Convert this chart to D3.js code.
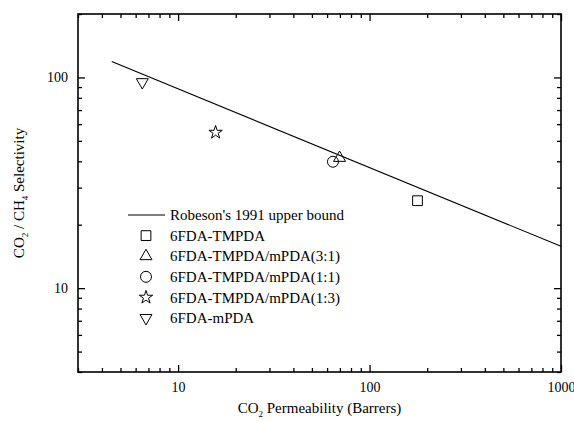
<!DOCTYPE html>
<html>
<head>
<meta charset="utf-8">
<script src="https://d3js.org/d3.v7.min.js"></script>
<style>
  html, body { margin: 0; padding: 0; background: #fff; }
</style>
</head>
<body>
<div id="chart"></div>
<script>
// Robeson 1991 upper bound, end points
var boundP = [4.5, 1000];
var boundSel = [119, 15.8];

var seriesNames = ["6FDA-TMPDA", "6FDA-TMPDA/mPDA(3:1)", "6FDA-TMPDA/mPDA(1:1)", "6FDA-TMPDA/mPDA(1:3)", "6FDA-mPDA"];
var permeability = [178, 69.7, 64.4, 15.7, 6.5];
var selectivity = [26.0, 41.5, 39.8, 54.8, 95.0];

var xMajor = [10, 100, 1000];
var yMajor = [10, 100];

var serif = "'Liberation Serif', 'Times New Roman', 'DejaVu Serif', serif";

var width = 574, height = 422,
    margin = {top: 14, right: 13, bottom: 50, left: 78},
    w = width - margin.left - margin.right,
    h = height - margin.top - margin.bottom;

var svg = d3.select("#chart").append("svg")
    .attr("width", width).attr("height", height)
    .attr("font-family", serif);
var g = svg.append("g").attr("transform", "translate(" + margin.left + "," + margin.top + ")");

var x = d3.scaleLog().domain([3, 1000]).range([0, w]);
var y = d3.scaleLog().domain([4, 200]).range([h, 0]);

var xMinor = x.ticks().filter(function (d) { return xMajor.indexOf(d) < 0; });
var yMinor = y.ticks().filter(function (d) { return yMajor.indexOf(d) < 0; });

function styleAxis(sel) {
    sel.attr("font-family", serif).attr("font-size", 14);
    sel.selectAll("path").remove();
    sel.selectAll("line").attr("stroke", "#000").attr("stroke-width", 1.3);
    sel.selectAll("text").attr("fill", "#000");
}

// bottom
g.append("g").attr("transform", "translate(0," + h + ")")
    .call(d3.axisBottom(x).tickValues(xMajor).tickSize(-7).tickPadding(10).tickFormat(d3.format("d")))
    .call(styleAxis);
g.append("g").attr("transform", "translate(0," + h + ")")
    .call(d3.axisBottom(x).tickValues(xMinor).tickSize(-4).tickFormat(""))
    .call(styleAxis);
// top
g.append("g")
    .call(d3.axisTop(x).tickValues(xMajor).tickSize(-7).tickFormat(""))
    .call(styleAxis);
g.append("g")
    .call(d3.axisTop(x).tickValues(xMinor).tickSize(-4).tickFormat(""))
    .call(styleAxis);
// left
g.append("g")
    .call(d3.axisLeft(y).tickValues(yMajor).tickSize(-7).tickPadding(10).tickFormat(d3.format("d")))
    .call(styleAxis);
g.append("g")
    .call(d3.axisLeft(y).tickValues(yMinor).tickSize(-4).tickFormat(""))
    .call(styleAxis);
// right
g.append("g").attr("transform", "translate(" + w + ",0)")
    .call(d3.axisRight(y).tickValues(yMajor).tickSize(-7).tickFormat(""))
    .call(styleAxis);
g.append("g").attr("transform", "translate(" + w + ",0)")
    .call(d3.axisRight(y).tickValues(yMinor).tickSize(-4).tickFormat(""))
    .call(styleAxis);

// frame
g.append("rect").attr("width", w).attr("height", h)
    .attr("fill", "none").attr("stroke", "#000").attr("stroke-width", 1.6);

// upper bound line
var line = d3.line().x(function (d) { return x(d[0]); }).y(function (d) { return y(d[1]); });
g.append("path")
    .datum(boundP.map(function (p, i) { return [p, boundSel[i]]; }))
    .attr("d", line).attr("fill", "none").attr("stroke", "#000").attr("stroke-width", 1.1);

var symbols = [
    d3.symbol().type(d3.symbolSquare).size(95),
    d3.symbol().type(d3.symbolTriangle).size(62),
    d3.symbol().type(d3.symbolCircle).size(95),
    d3.symbol().type(d3.symbolStar).size(55),
    d3.symbol().type(d3.symbolTriangle).size(62)
];
var rotations = [0, 0, 0, 0, 180];

g.append("g").selectAll("path")
    .data(seriesNames)
    .enter().append("path")
    .attr("transform", function (d, i) {
        return "translate(" + x(permeability[i]) + "," + y(selectivity[i]) + ") rotate(" + rotations[i] + ")";
    })
    .attr("d", function (d, i) { return symbols[i](); })
    .attr("fill", "none").attr("stroke", "#000").attr("stroke-width", 1);

// legend
var legend = g.append("g").attr("transform", "translate(" + (128 - margin.left) + "," + (215 - margin.top) + ")");
legend.append("line").attr("x1", 0).attr("x2", 37).attr("y1", 0).attr("y2", 0)
    .attr("stroke", "#000").attr("stroke-width", 1.1);
legend.append("text").attr("x", 42).attr("y", 0).attr("dy", "0.35em")
    .attr("font-size", 15).text("Robeson's 1991 upper bound");

var items = legend.selectAll("g.item")
    .data(seriesNames)
    .enter().append("g")
    .attr("class", "item")
    .attr("transform", function (d, i) { return "translate(0," + (i + 1) * 20.6 + ")"; });
items.append("path")
    .attr("transform", function (d, i) { return "translate(18,0) rotate(" + rotations[i] + ")"; })
    .attr("d", function (d, i) { return symbols[i](); })
    .attr("fill", "none").attr("stroke", "#000").attr("stroke-width", 1);
items.append("text").attr("x", 42).attr("dy", "0.35em")
    .attr("font-size", 15).text(function (d) { return d; });

// axis titles
var xt = svg.append("text").attr("x", margin.left + w / 2).attr("y", 413)
    .attr("text-anchor", "middle").attr("font-size", 15);
xt.append("tspan").text("CO");
xt.append("tspan").attr("dy", 4).attr("font-size", 9).text("2");
xt.append("tspan").attr("dy", -4).text(" Permeability (Barrers)");

var yt = svg.append("text").attr("transform", "translate(24," + (margin.top + h / 2) + ") rotate(-90)")
    .attr("text-anchor", "middle").attr("font-size", 15);
yt.append("tspan").text("CO");
yt.append("tspan").attr("dy", 4).attr("font-size", 9).text("2");
yt.append("tspan").attr("dy", -4).text(" / CH");
yt.append("tspan").attr("dy", 4).attr("font-size", 9).text("4");
yt.append("tspan").attr("dy", -4).text(" Selectivity");
</script>
</body>
</html>
